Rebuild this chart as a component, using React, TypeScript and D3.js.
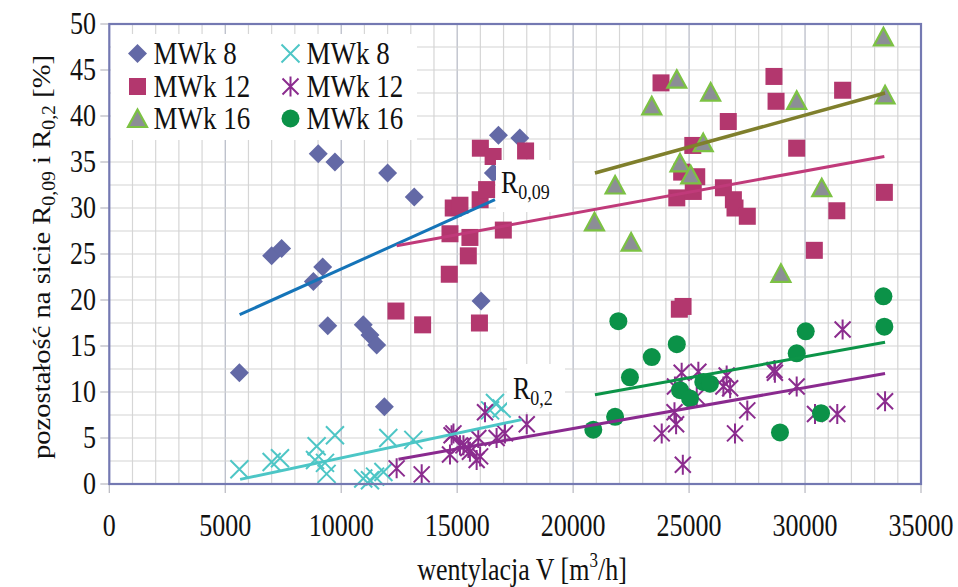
import React from 'react';
import * as d3 from 'd3';

const W = 958, H = 587;

// axis ticks
const xTicks = [0, 5000, 10000, 15000, 20000, 25000, 30000, 35000];
const yTicks = [0, 5, 10, 15, 20, 25, 30, 35, 40, 45, 50];

// MWk 8 – R0,09 (diamonds)
const d8x = [5610, 7000, 7430, 8800, 9200, 9010, 9730, 9420, 10950, 11240, 11530, 11860, 12000, 13150, 16030, 16560, 16780, 17700];
const d8y = [12.1, 24.8, 25.6, 22.0, 23.6, 35.9, 35.0, 17.2, 17.3, 16.2, 15.1, 8.4, 33.8, 31.2, 19.9, 33.8, 37.9, 37.6];

// MWk 12 – R0,09 (squares)
const s12x = [12360, 13510, 15960, 14660, 15480, 14690, 15550, 16990, 14830, 15120, 15990, 16270, 16000, 16550, 17950, 23790, 28660, 28750, 31620, 26690, 25160, 29640, 24680, 25330, 24470, 25180, 26480, 26910, 26980, 27510, 31370, 33420, 30400, 24580, 24740];
const s12y = [18.8, 17.3, 17.5, 22.8, 24.8, 27.2, 26.8, 27.6, 30.0, 30.3, 30.9, 32.0, 36.5, 35.6, 36.2, 43.6, 44.3, 41.6, 42.8, 39.4, 36.8, 36.5, 33.9, 33.4, 31.1, 31.8, 32.2, 30.9, 30.0, 29.1, 29.7, 31.7, 25.4, 19.0, 19.3];

// MWk 16 – R0,09 (triangles)
const t16x = [20920, 21810, 22500, 23390, 24470, 24610, 25070, 25610, 25930, 28960, 29640, 30720, 33380, 33450];
const t16y = [28.5, 32.5, 26.3, 41.1, 44.0, 34.9, 33.6, 37.1, 42.6, 22.9, 41.7, 32.2, 48.6, 42.3];

// MWk 8 – R0,2 (x)
const x8x = [5610, 7000, 7360, 8870, 8940, 9300, 9370, 9730, 10950, 11240, 11460, 11820, 12030, 13110, 16420, 16630, 16920];
const x8y = [1.6, 2.4, 2.8, 2.6, 4.1, 2.3, 1.1, 5.3, 0.6, 0.4, 0.8, 1.3, 5.0, 4.8, 8.0, 8.8, 8.2];

// MWk 12 – R0,2 (asterisks)
const a12x = [12390, 13470, 14690, 14760, 14840, 15120, 15270, 15480, 15550, 15840, 15910, 15990, 16200, 16700, 17060, 18000, 23820, 24370, 24390, 24440, 24680, 24730, 25400, 25330, 26480, 26620, 26770, 26980, 27510, 28680, 28700, 29640, 30430, 31390, 31620, 33450];
const a12y = [1.7, 1.05, 3.2, 5.3, 5.5, 4.2, 4.2, 3.9, 3.5, 2.6, 5.0, 3.0, 7.8, 5.0, 5.5, 6.5, 5.5, 7.8, 10.6, 6.5, 12.1, 2.1, 12.2, 9.5, 10.6, 11.8, 10.4, 5.5, 8.0, 12.4, 12.1, 10.6, 7.6, 7.6, 16.8, 9.0];

// MWk 16 – R0,2 (circles)
const c16x = [20870, 21810, 21950, 22450, 23390, 24470, 24610, 25040, 25610, 25900, 28920, 29640, 30030, 30690, 33380, 33420];
const c16y = [5.9, 7.3, 17.7, 11.6, 13.8, 15.2, 10.2, 9.3, 11.1, 10.9, 5.6, 14.2, 16.6, 7.7, 20.4, 17.1];

// trend lines: [x1, x2], [y1, y2]
const trendD8x = [5620, 16630], trendD8y = [18.4, 30.9];
const trendS12x = [12390, 33420], trendS12y = [25.9, 35.6];
const trendT16x = [20940, 33450], trendT16y = [33.8, 42.5];
const trendX8x = [5640, 17780], trendX8y = [0.5, 7.0];
const trendA12x = [12470, 33450], trendA12y = [2.7, 12.0];
const trendC16x = [20940, 33450], trendC16y = [9.7, 15.4];

const legendLabels = ['MWk 8', 'MWk 12', 'MWk 16', 'MWk 8', 'MWk 12', 'MWk 16'];

const C = {
  diamond: '#6369A6',
  square: '#B3376E',
  triFill: '#8C8E96',
  triStroke: '#7CC243',
  cross: '#4EC6C6',
  star: '#8B2C8E',
  circle: '#0B9248',
  lBlue: '#1574B8',
  lPink: '#C03A7A',
  lOlive: '#7F7F2C',
  lCyan: '#4CC6C6',
  lPurple: '#8A2A8F',
  lGreen: '#0C9448',
};

const FONT = '"Liberation Serif", "Times New Roman", serif';
const SY = 1.18; // vertical stretch of the text in the reference

const x = d3.scaleLinear().domain([0, 35000]).range([109.3, 921]);
const y = d3.scaleLinear().domain([0, 50]).range([484, 24]);

function Diamond({ cx, cy }: { cx: number; cy: number }) {
  const r = 9.5;
  return <path d={`M${cx},${cy - r}L${cx + r},${cy}L${cx},${cy + r}L${cx - r},${cy}Z`} fill={C.diamond} />;
}
function Square({ cx, cy }: { cx: number; cy: number }) {
  const s = 17;
  return <rect x={cx - s / 2} y={cy - s / 2} width={s} height={s} fill={C.square} />;
}
function Tri({ cx, cy }: { cx: number; cy: number }) {
  return <path d={`M${cx},${cy - 9}L${cx + 9.5},${cy + 8.5}L${cx - 9.5},${cy + 8.5}Z`} fill={C.triFill} stroke={C.triStroke} strokeWidth={2.2} strokeLinejoin="miter" />;
}
function Cross({ cx, cy }: { cx: number; cy: number }) {
  const r = 9;
  return <path d={`M${cx - r},${cy - r}L${cx + r},${cy + r}M${cx - r},${cy + r}L${cx + r},${cy - r}`} stroke={C.cross} strokeWidth={2} fill="none" />;
}
function Star({ cx, cy }: { cx: number; cy: number }) {
  const r = 8, v = 10;
  return <path d={`M${cx - r},${cy - r}L${cx + r},${cy + r}M${cx - r},${cy + r}L${cx + r},${cy - r}M${cx},${cy - v}L${cx},${cy + v}`} stroke={C.star} strokeWidth={2} fill="none" />;
}
function Dot({ cx, cy }: { cx: number; cy: number }) {
  return <circle cx={cx} cy={cy} r={9} fill={C.circle} />;
}

function Trend({ xs, ys, color, w = 3 }: { xs: number[]; ys: number[]; color: string; w?: number }) {
  const line = d3.line<number>().x((_, i) => x(xs[i])).y((_, i) => y(ys[i]));
  return <path d={line(xs) || ''} stroke={color} strokeWidth={w} fill="none" />;
}

function T({ x: tx, y: ty, children, size = 26, anchor = 'start' }: any) {
  return (
    <text transform={`translate(${tx},${ty}) scale(1,${SY})`} fontSize={size} textAnchor={anchor} fill="#111">
      {children}
    </text>
  );
}

export default function App() {
  const xMinor = d3.range(1000, 35000, 1000);
  const yMinor = d3.range(2.5, 50, 2.5);
  const pts = (xs: number[], ys: number[], M: any) => xs.map((v, i) => <M key={i} cx={x(v)} cy={y(ys[i])} />);

  const legendMarkers = [Diamond, Square, Tri, Cross, Star, Dot];

  return (
    <svg width={W} height={H} style={{ position: 'absolute', left: 0, top: 0, background: '#fff' }} fontFamily={FONT}>
      <rect x={0} y={0} width={W} height={H} fill="#fff" />
      {/* grid */}
      {xMinor.map((v) => (
        <line key={'gx' + v} x1={x(v)} x2={x(v)} y1={y(50)} y2={y(0)} stroke={v % 5000 === 0 ? '#B4B8C4' : '#D6D6D6'} strokeWidth={1.2} />
      ))}
      {yMinor.map((v) => (
        <line key={'gy' + v} x1={x(0)} x2={x(35000)} y1={y(v)} y2={y(v)} stroke="#D3D3D3" strokeWidth={1.2} />
      ))}
      {/* ticks */}
      {yTicks.map((v) => (
        <line key={'ty' + v} x1={x(0) - 9} x2={x(0)} y1={y(v)} y2={y(v)} stroke="#B8B8C0" strokeWidth={1.2} />
      ))}
      {xTicks.map((v) => (
        <line key={'tx' + v} x1={x(v)} x2={x(v)} y1={y(0)} y2={y(0) + 9} stroke="#B8B8C0" strokeWidth={1.2} />
      ))}
      {/* tick labels */}
      {yTicks.map((v) => (
        <T key={'ly' + v} x={96} y={y(v) + 10} anchor="end">{v}</T>
      ))}
      {xTicks.map((v) => (
        <T key={'lx' + v} x={x(v)} y={536} anchor="middle">{v}</T>
      ))}

      {/* markers */}
      {pts(d8x, d8y, Diamond)}
      {pts(s12x, s12y, Square)}
      {pts(t16x, t16y, Tri)}
      {pts(x8x, x8y, Cross)}
      {pts(a12x, a12y, Star)}
      {pts(c16x, c16y, Dot)}

      {/* trend lines */}
      <Trend xs={trendD8x} ys={trendD8y} color={C.lBlue} />
      <Trend xs={trendS12x} ys={trendS12y} color={C.lPink} />
      <Trend xs={trendT16x} ys={trendT16y} color={C.lOlive} w={3.5} />
      <Trend xs={trendX8x} ys={trendX8y} color={C.lCyan} />
      <Trend xs={trendA12x} ys={trendA12y} color={C.lPurple} />
      <Trend xs={trendC16x} ys={trendC16y} color={C.lGreen} />

      {/* labels */}
      <rect x={496} y={160} width={76} height={52} fill="#fff" />
      <T x={501} y={193}>R<tspan fontSize={18} dy={5}>0,09</tspan></T>
      <rect x={507} y={364} width={58} height={48} fill="#fff" />
      <T x={513} y={399}>R<tspan fontSize={18} dy={5}>0,2</tspan></T>

      {/* frame */}
      <rect x={x(0)} y={y(50)} width={x(35000) - x(0)} height={y(0) - y(50)} fill="none" stroke="#7479B2" strokeWidth={2.2} />

      {/* legend */}
      <rect x={111} y={34} width={306} height={106} fill="#fff" />
      {legendLabels.map((t, i) => {
        const col = Math.floor(i / 3), row = i % 3;
        const mx = col === 0 ? 137.5 : 290.5;
        const my = [53.5, 86.5, 118.5][row];
        const M = legendMarkers[i];
        return (
          <g key={'lg' + i}>
            <M cx={mx} cy={my} />
            <T x={mx + 16} y={my + 10} size={27}>{t}</T>
          </g>
        );
      })}

      {/* axis titles */}
      <T x={522} y={580} anchor="middle">
        wentylacja V [m<tspan fontSize={17} dy={-11}>3</tspan><tspan dy={11}>/h]</tspan>
      </T>
      <text transform="translate(50,257) rotate(-90) scale(1.1,1)" fontSize={26} textAnchor="middle" fill="#111">
        pozostałość na sicie R<tspan fontSize={18} dy={5}>0,09</tspan><tspan dy={-5}> i R</tspan><tspan fontSize={18} dy={5}>0,2</tspan><tspan dy={-5}> [%]</tspan>
      </text>
    </svg>
  );
}
